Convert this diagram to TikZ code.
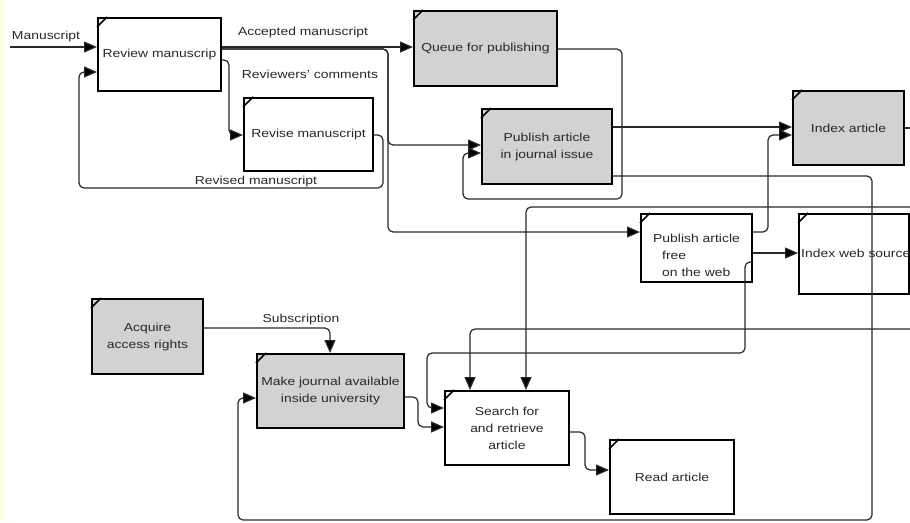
\documentclass[tikz,border=0pt]{standalone}
\usepackage{fontspec}
\setmainfont{Liberation Sans}[FakeStretch=1.2]
\usetikzlibrary{arrows.meta}
\definecolor{boxgray}{RGB}{210,210,210}
\definecolor{inkgray}{RGB}{40,40,40}
\definecolor{stripyellow}{RGB}{255,255,236}

\begin{document}
\begin{tikzpicture}[%
      x=1pt, y=-1pt,
      font=\fontsize{11.6pt}{17pt}\selectfont,
      proc/.style={draw=black, line width=2pt, fill=white, text=inkgray,
        inner sep=0pt, anchor=north west, align=center},
      greyproc/.style={proc, fill=boxgray},
      wire/.style={draw=inkgray, line width=1.2pt, rounded corners=5pt},
      flow/.style={wire, -{Triangle[length=13pt,width=11pt,fill=black]}},
      lbl/.style={text=inkgray, inner sep=0pt},
      corner/.style={draw=black, line width=1.5pt},
      ]
      \useasboundingbox (0,0) rectangle (910,522);
      \fill [stripyellow] (0,0) rectangle (5,522);

      \node [proc, minimum width=123pt, minimum height=73pt] (review) at (97,17) {Review manuscrip};
      \node [proc, minimum width=129pt, minimum height=73pt] (revise) at (243,97) {Revise manuscript};
      \node [greyproc, minimum width=143pt, minimum height=75pt] (queue) at (413,10) {Queue for publishing};
      \node [greyproc, minimum width=130pt, minimum height=75pt] (journal) at (481,108) {Publish article\\in journal issue};
      \node [greyproc, minimum width=111pt, minimum height=74pt] (idx) at (792,90) {Index article};
      \node [proc, minimum width=111pt, minimum height=68pt] (web) at (640,213) {};
      \node [proc, minimum width=110pt, minimum height=80pt] (idxweb) at (798,213) {};
      \node [greyproc, minimum width=111pt, minimum height=75pt] (acq) at (91,298) {Acquire\\access rights};
      \node [greyproc, minimum width=147pt, minimum height=74pt] (avail) at (256,353) {Make journal available\\inside university};
      \node [proc, minimum width=124pt, minimum height=74pt] (search) at (444,390) {Search for\\and retrieve\\article};
      \node [proc, minimum width=124pt, minimum height=74pt] (read) at (609,439) {Read article};

      \node [lbl, align=left, anchor=west] (webtext) at (653,255) {Publish article\\\hspace*{9pt}free\\\hspace*{9pt}on the web};
      \node [lbl, anchor=west] (idxwebtext) at (801,253) {Index web source};

      \foreach \n in {review,revise,queue,journal,idx,web,idxweb,acq,avail,search,read}
        \draw [corner] ([yshift=-10pt]\n.north west) -- ([xshift=10pt]\n.north west);

      \coordinate (msin) at (10,47);
      \coordinate (outidx) at (910,128);
      \coordinate (inhigh) at (910,207);
      \coordinate (inlow) at (910,329);

      \draw [flow] (msin) -- (review.west |- msin);
      \draw [flow] (review.east |- 0,47) -- (queue.west |- 0,47);
      \draw [flow] (review.east |- 0,49) -| (388,145) -- (journal.west |- 0,145);
      \draw [flow] (review.east |- 0,49) -| (388,232) -- (web.west |- 0,232);
      \draw [flow] (review.east |- 0,60) -| (229,135) -- (revise.west |- 0,135);
      \draw [flow] (revise.east |- 0,135) -| (383,188) -| (79,72) -- (review.west |- 0,72);
      \draw [flow] (queue.east |- 0,49) -| (622,199) -| (463,153) -- (journal.west |- 0,153);
      \draw [flow] (journal.east |- 0,127) -- (idx.west |- 0,127);
      \draw [flow] (journal.east |- 0,176) -| (872,520) -| (238,398) -- (avail.west |- 0,398);
      \draw [wire] (idx.east |- outidx) -- (outidx);
      \draw [flow] (inhigh) -| (526,0 |- search.north);
      \draw [flow] (inlow) -| (470,0 |- search.north);
      \draw [flow] (web.east |- 0,232) -| (768,135) -- (idx.west |- 0,135);
      \draw [flow] (web.east |- 0,253) -- (idxweb.west |- 0,253);
      \draw [flow] (web.east |- 0,262) -| (745,353) -| (427,408) -- (search.west |- 0,408);
      \draw [flow] (avail.east |- 0,397) -| (418,427) -- (search.west |- 0,427);
      \draw [flow] (search.east |- 0,432) -| (585,470) -- (read.west |- 0,470);
      \draw [flow] (acq.east |- 0,328) -| (330,0 |- avail.north);

      \node [lbl] (lmanu) at (46,37) {Manuscript};
      \node [lbl] (laccept) at (303,33) {Accepted manuscript};
      \node [lbl] (lcomments) at (310,74) {Reviewers' comments};
      \node [lbl] (lrevised) at (256,181) {Revised manuscript};
      \node [lbl] (lsubscr) at (301,319) {Subscription};
\end{tikzpicture}
\end{document}
